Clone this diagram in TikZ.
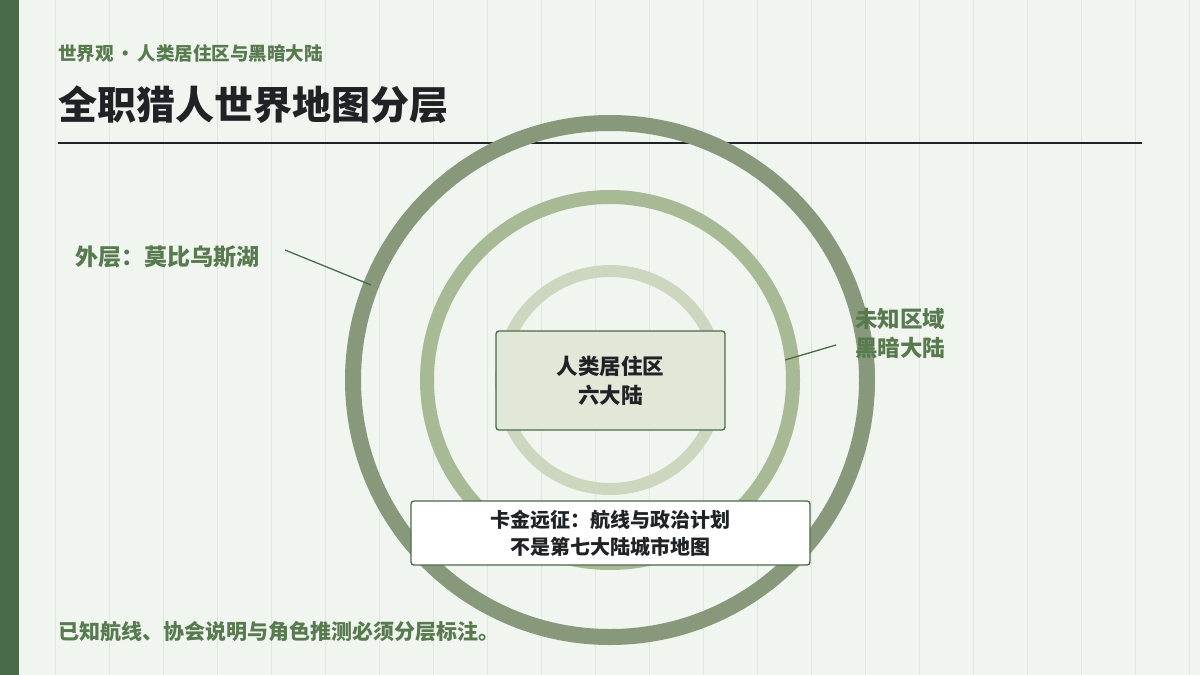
\documentclass[tikz,border=0pt]{standalone}
\usepackage{fontspec}
\setmainfont{Noto Sans CJK SC}
\begin{document}
\begin{tikzpicture}[x=1pt,y=-1pt,
  lbl/.style={font=\bfseries\fontsize{23}{27}\selectfont,text=dgreen,inner sep=0},
  box/.style={draw=bord,line width=1.3pt,rounded corners=3pt,align=center,text=dark},
  ring/.style={line width=#1}]
\definecolor{bg}{HTML}{F1F5EF}
\definecolor{bar}{HTML}{4A6B4A}
\definecolor{grid}{HTML}{E2E6E0}
\definecolor{dgreen}{HTML}{577A4F}
\definecolor{dark}{HTML}{202326}
\definecolor{bord}{HTML}{4A6B4A}
\definecolor{r1}{HTML}{87997A}
\definecolor{r2}{HTML}{A8B996}
\definecolor{r3}{HTML}{CDD6BF}
\definecolor{boxfill}{HTML}{E2E8D8}
\fill[bg] (0,0) rectangle (1200,675);
\useasboundingbox (0,0) rectangle (1200,675);
\foreach \x in {55,109,...,1200} \draw[grid,line width=0.8pt] (\x,0) -- (\x,675);
\fill[bar] (0,0) rectangle (19,675);
\node[anchor=west,font=\bfseries\fontsize{18.5}{22}\selectfont,text=dgreen,inner sep=0] (sub) at (58,53) {世界观\hspace{0.15em}·\hspace{0.15em}人类居住区与黑暗大陆};
\node[anchor=west,font=\bfseries\fontsize{39}{44}\selectfont,text=dark,inner sep=0] (title) at (58,105) {全职猎人世界地图分层};
\coordinate (l1) at (58,143); \coordinate (l2) at (1142,143);
\draw[dark,line width=1.5pt] (l1) -- (l2);
\coordinate (c) at (610,380);
\draw[r1,ring=16pt] (c) circle (257);
\draw[r2,ring=14pt] (c) circle (183);
\draw[r3,ring=12pt] (c) circle (109);
\node[box,fill=boxfill,minimum width=229,minimum height=99,font=\bfseries\fontsize{21.5}{29}\selectfont] (inner) at (610.5,380.5) {人类居住区\\六大陆};
\node[box,fill=white,minimum width=399,minimum height=64,font=\bfseries\fontsize{20}{27}\selectfont] (exp) at (610.5,533) {卡金远征：航线与政治计划\\不是第七大陆城市地图};
\node[lbl,anchor=west] (outer) at (75,257) {外层：莫比乌斯湖};
\coordinate (a1) at (285,250); \coordinate (a2) at (371,285);
\draw[bar,line width=1.3pt] (a1) -- (a2);
\node[lbl,anchor=west,align=left,font=\bfseries\fontsize{22.5}{29}\selectfont] (dark) at (855,333) {未知区域\\黑暗大陆};
\coordinate (b1) at (836,345); \coordinate (b2) at (785,360);
\draw[bar,line width=1.3pt] (b1) -- (b2);
\node[lbl,anchor=west,font=\bfseries\fontsize{21}{24}\selectfont] (note) at (58,632) {已知航线、协会说明与角色推测必须分层标注。};
\end{tikzpicture}
\end{document}
